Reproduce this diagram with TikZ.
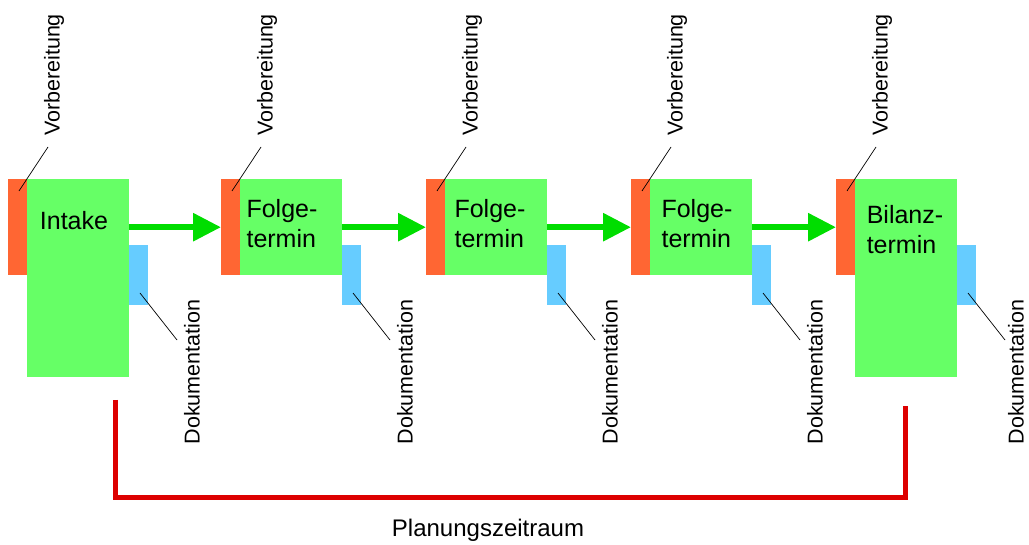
\documentclass[tikz,border=0pt]{standalone}
\usepackage{fontspec}
\setmainfont{Liberation Sans}
\usetikzlibrary{arrows.meta,calc}
\definecolor{boxgreen}{HTML}{66FF66}
\definecolor{flowgreen}{HTML}{00DD00}
\definecolor{prepred}{HTML}{FF6633}
\definecolor{docblue}{HTML}{66CCFF}
\definecolor{spanred}{HTML}{DD0000}
\begin{document}
\begin{tikzpicture}[x=1pt,y=-1pt,
  box/.style={rectangle,inner sep=0pt,draw=none,anchor=north west},
  prepbox/.style={box,fill=prepred,minimum width=19pt,minimum height=96pt},
  mainbox/.style={box,fill=boxgreen,minimum width=102pt},
  docbox/.style={box,fill=docblue,minimum width=19pt,minimum height=60pt},
  bigtext/.style={font=\fontsize{25}{30}\selectfont,align=left,inner sep=0pt},
  smalltext/.style={font=\fontsize{21.5}{24}\selectfont,rotate=90,inner sep=0pt},
  leader/.style={draw=black,line width=0.7pt},
  flow/.style={draw=flowgreen,line width=6pt,-{Triangle[length=28pt,width=27pt]}},
  span/.style={draw=spanred,line width=5pt}]
\useasboundingbox (0,0) rectangle (1029,545);
\foreach \i/\O/\h/\kx in {1/8/198/184,2/221/96/184,3/426/96/184,4/631/96/184,5/836/198/180}{
  \node[prepbox] (o\i) at (\O,179) {};
  \node[mainbox,minimum height=\h pt] (g\i) at (\O+19,179) {};
  \node[docbox] (d\i) at (\O+121,245) {};
  \node[smalltext] (v\i) at (\O+46,75) {Vorbereitung};
  \node[smalltext] (k\i) at (\O+\kx,372) {Dokumentation};
  \coordinate (va\i) at (\O+11,191);
  \coordinate (vb\i) at (\O+40,147);
  \coordinate (ka\i) at (\O+132,293);
  \coordinate (kb\i) at (\O+169,340);
  \draw[leader] (va\i) -- (vb\i);
  \draw[leader] (ka\i) -- (kb\i);
}
\node[bigtext] (t1) at (74,221) {Intake};
\node[bigtext] (t2) at (282,224) {Folge-\\termin};
\node[bigtext] (t3) at (490,224) {Folge-\\termin};
\node[bigtext] (t4) at (697,224) {Folge-\\termin};
\node[bigtext] (t5) at (905,230) {Bilanz-\\termin};
\draw[flow] (g1.east |- o2.west) -- (o2.west);
\draw[flow] (g2.east |- o3.west) -- (o3.west);
\draw[flow] (g3.east |- o4.west) -- (o4.west);
\draw[flow] (g4.east |- o5.west) -- (o5.west);
\coordinate (bl) at (115,400);
\coordinate (br) at (905,406);
\coordinate (bb) at (510,497);
\draw[span] (bl) |- (bb) -| (br);
\node[font=\fontsize{24}{28}\selectfont,inner sep=0pt] (plan) at (488,530) {Planungszeitraum};
\end{tikzpicture}
\end{document}
